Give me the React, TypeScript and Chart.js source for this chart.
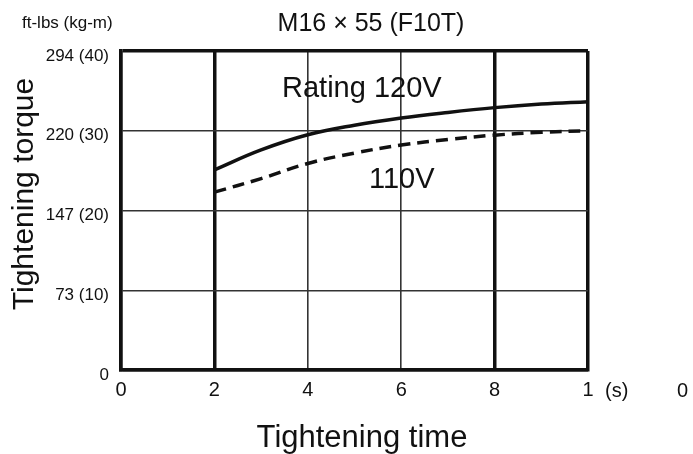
import { useEffect, useRef } from 'react';
import { Chart, registerables } from 'chart.js';

Chart.register(...registerables);

// Tightening time in seconds
const timeSeconds = [2, 3, 4, 5, 6, 7, 8, 9, 10];
// Torque in kg-m at rated 120V supply
const rating120V = [25.1, 27.6, 29.5, 30.7, 31.6, 32.3, 32.9, 33.35, 33.65];
// Torque in kg-m at 110V supply
const volt110V = [22.3, 24.0, 25.9, 27.2, 28.2, 28.9, 29.45, 29.8, 30.0];

// Axis ticks: torque (kg-m) with ft-lbs equivalents, and time (s)
const yTickValues = [0, 10, 20, 30, 40];
const yTickLabels = ['0', '73 (10)', '147 (20)', '220 (30)', '294 (40)'];
const xTickValues = [0, 2, 4, 6, 8, 10];
const xTickLabels = ['0', '2', '4', '6', '8', '1'];

const FONT = "'Liberation Sans', Arial, Helvetica, sans-serif";
const INK = '#111';

const annotations = {
  id: 'annotations',
  afterDraw(chart: Chart) {
    const { ctx } = chart;
    ctx.save();
    ctx.fillStyle = INK;
    ctx.textBaseline = 'alphabetic';

    ctx.font = `17px ${FONT}`;
    ctx.textAlign = 'left';
    ctx.fillText('ft-lbs (kg-m)', 22, 28);

    ctx.font = `25px ${FONT}`;
    ctx.textAlign = 'center';
    ctx.fillText('M16 \u00d7 55 (F10T)', 371, 31);

    ctx.font = `29px ${FONT}`;
    ctx.textAlign = 'left';
    ctx.fillText('Rating 120V', 282, 97);
    ctx.fillText('110V', 369, 188);

    ctx.font = `20px ${FONT}`;
    ctx.fillText('(s)', 605, 397);
    ctx.fillText('0', 677, 397);

    ctx.font = `31px ${FONT}`;
    ctx.textAlign = 'center';
    ctx.fillText('Tightening time', 362, 447);

    ctx.font = `30px ${FONT}`;
    ctx.translate(33, 194);
    ctx.rotate(-Math.PI / 2);
    ctx.fillText('Tightening torque', 0, 0);
    ctx.restore();
  },
};

export default function App() {
  const canvasRef = useRef<HTMLCanvasElement | null>(null);

  useEffect(() => {
    const canvas = canvasRef.current;
    if (!canvas) return;
    const chart = new Chart(canvas, {
      type: 'line',
      data: {
        datasets: [
          {
            label: 'Rating 120V',
            data: timeSeconds.map((t, i) => ({ x: t, y: rating120V[i] })),
            borderColor: INK,
            borderWidth: 3.5,
            pointRadius: 0,
            tension: 0.4,
          },
          {
            label: '110V',
            data: timeSeconds.map((t, i) => ({ x: t, y: volt110V[i] })),
            borderColor: INK,
            borderWidth: 3.5,
            borderDash: [12, 7],
            pointRadius: 0,
            tension: 0.4,
          },
        ],
      },
      options: {
        animation: false,
        responsive: false,
        devicePixelRatio: 1,
        layout: { padding: { left: 0, top: 51, right: 105, bottom: 0 } },
        plugins: {
          legend: { display: false },
          tooltip: { enabled: false },
          title: { display: false },
        },
        scales: {
          x: {
            type: 'linear',
            min: 0,
            max: 10,
            afterFit: (scale: any) => {
              scale.height = 84;
            },
            afterBuildTicks: (scale: any) => {
              scale.ticks = xTickValues.map((v) => ({ value: v }));
            },
            ticks: {
              autoSkip: false,
              maxRotation: 0,
              padding: 8,
              color: INK,
              font: { family: FONT, size: 20 },
              callback: (value: any) => xTickLabels[xTickValues.indexOf(Number(value))] ?? '',
            },
            grid: {
              drawTicks: false,
              color: (c: any) => ([0, 2, 8, 10].includes(c.tick?.value) ? INK : '#333'),
              lineWidth: (c: any) => ([0, 2, 8, 10].includes(c.tick?.value) ? 3.5 : 1.6),
            },
            border: { display: true, width: 3.5, color: INK },
          },
          y: {
            type: 'linear',
            min: 0,
            max: 40,
            afterFit: (scale: any) => {
              scale.width = 121;
            },
            afterBuildTicks: (scale: any) => {
              scale.ticks = yTickValues.map((v) => ({ value: v }));
            },
            ticks: {
              autoSkip: false,
              padding: 12,
              labelOffset: 5,
              color: INK,
              font: { family: FONT, size: 17 },
              callback: (value: any) => yTickLabels[yTickValues.indexOf(Number(value))] ?? '',
            },
            grid: {
              drawTicks: false,
              color: (c: any) => ([0, 40].includes(c.tick?.value) ? INK : '#333'),
              lineWidth: (c: any) => ([0, 40].includes(c.tick?.value) ? 3.5 : 1.4),
            },
            border: { display: true, width: 3.5, color: INK },
          },
        },
      },
      plugins: [annotations],
    });
    return () => chart.destroy();
  }, []);

  return (
    <div style={{ position: 'absolute', left: 0, top: 0, width: 693, height: 454, background: '#fff' }}>
      <canvas ref={canvasRef} width={693} height={454} />
    </div>
  );
}
